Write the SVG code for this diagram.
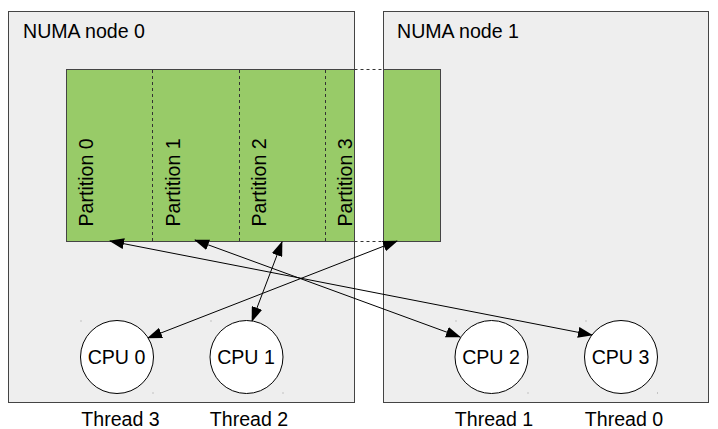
<svg xmlns="http://www.w3.org/2000/svg" width="718" height="429" viewBox="0 0 718 429">
<style>
.node{fill:#eeeeee;stroke:#444444;stroke-width:1}
.mem{fill:#98cb68;stroke:#444444;stroke-width:1}
.div{stroke:#333333;stroke-width:1;stroke-dasharray:3,3;fill:none}
.cpu{fill:#ffffff;stroke:#000000;stroke-width:1}
.conn{stroke:#000000;stroke-width:1;fill:none;marker-start:url(#ah);marker-end:url(#ah)}
text{font-family:"Liberation Sans",Arial,sans-serif;font-size:19.6px;fill:#000000}
.dot{fill:#999999}
</style>
<defs>
<marker id="ah" viewBox="0 0 15 11" refX="14" refY="5.5" markerWidth="15" markerHeight="11" markerUnits="userSpaceOnUse" orient="auto-start-reverse">
<path d="M0,0 L15,5.5 L0,11 z" fill="#000000"/>
</marker>
</defs>
<rect width="718" height="429" fill="#ffffff"/>
<g id="numa0">
<rect class="node" x="8.5" y="11.5" width="346" height="391"/>
<text x="23" y="37.5">NUMA node 0</text>
</g>
<g id="numa1">
<rect class="node" x="383.5" y="11.5" width="325" height="391"/>
<text x="397" y="37.5">NUMA node 1</text>
</g>
<g id="memory">
<rect class="mem" x="66.5" y="69.5" width="288" height="172"/>
<rect class="mem" x="383.5" y="69.5" width="57" height="172"/>
<line class="div" x1="354.5" y1="69.5" x2="383.5" y2="69.5"/>
<line class="div" x1="354.5" y1="241.5" x2="383.5" y2="241.5"/>
<line class="div" x1="152.5" y1="70" x2="152.5" y2="241"/>
<line class="div" x1="239.5" y1="70" x2="239.5" y2="241"/>
<line class="div" x1="325.5" y1="70" x2="325.5" y2="241"/>
</g>
<g id="partition0"><text transform="translate(93,226.5) rotate(-90)">Partition 0</text></g>
<g id="partition1"><text transform="translate(179.5,226.5) rotate(-90)">Partition 1</text></g>
<g id="partition2"><text transform="translate(266,226.5) rotate(-90)">Partition 2</text></g>
<g id="partition3"><text transform="translate(352,226.5) rotate(-90)">Partition 3</text></g>
<g id="connectors">
<line class="conn" x1="110" y1="241" x2="592" y2="335"/>
<line class="conn" x1="195" y1="240" x2="460" y2="337"/>
<line class="conn" x1="282" y1="242" x2="252" y2="321"/>
<line class="conn" x1="397" y1="241" x2="148" y2="338"/>
</g>
<g id="cpu0">
<circle class="cpu" cx="117" cy="357" r="36.5"/>
<text x="116.5" y="363.5" text-anchor="middle">CPU 0</text>
<rect class="dot" x="80.5" y="320.5" width="1" height="1"/>
<rect class="dot" x="152.5" y="392.5" width="1" height="1"/>
</g>
<g id="cpu1">
<circle class="cpu" cx="246.5" cy="357" r="36.5"/>
<text x="246" y="363.5" text-anchor="middle">CPU 1</text>
<rect class="dot" x="210.5" y="320.5" width="1" height="1"/>
<rect class="dot" x="282.5" y="392.5" width="1" height="1"/>
</g>
<g id="cpu2">
<circle class="cpu" cx="491.5" cy="357" r="36.5"/>
<text x="491" y="363.5" text-anchor="middle">CPU 2</text>
<rect class="dot" x="455.5" y="320.5" width="1" height="1"/>
<rect class="dot" x="527.5" y="392.5" width="1" height="1"/>
</g>
<g id="cpu3">
<circle class="cpu" cx="621" cy="357" r="36.5"/>
<text x="620.5" y="363.5" text-anchor="middle">CPU 3</text>
<rect class="dot" x="585.5" y="320.5" width="1" height="1"/>
<rect class="dot" x="657" y="392.5" width="1" height="1"/>
</g>
<g id="threads">
<text x="120.5" y="426" text-anchor="middle">Thread 3</text>
<text x="249" y="426" text-anchor="middle">Thread 2</text>
<text x="494" y="426" text-anchor="middle">Thread 1</text>
<text x="624" y="426" text-anchor="middle">Thread 0</text>
</g>
</svg>
